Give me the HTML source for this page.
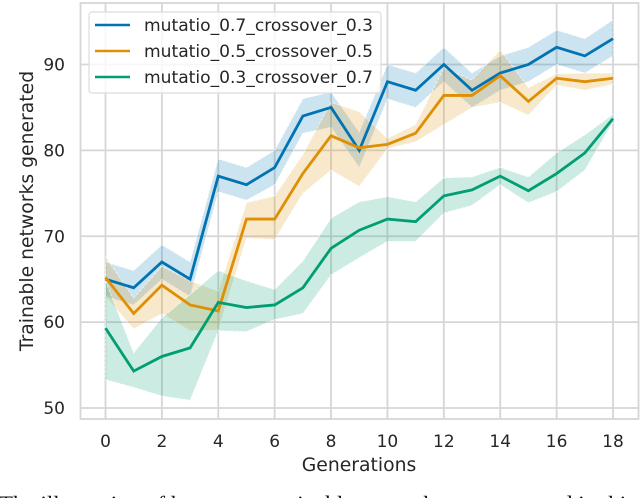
<!DOCTYPE html>
<html>
<head>
<meta charset="utf-8">
<style>
html,body{margin:0;padding:0;background:#fff;overflow:hidden;}
svg{display:block;}
text{font-family:"DejaVu Sans",sans-serif;fill:#262626;}
</style>
</head>
<body>
<svg id="chart" width="640" height="498" viewBox="0 0 640 498" xmlns="http://www.w3.org/2000/svg">
<rect x="0" y="0" width="640" height="498" fill="#fff"/>
<g id="grid"></g>
<g id="bands"></g>
<g id="lines"></g>
<rect x="80.5" y="3" width="558" height="416" fill="none" stroke="#d6d6d6" stroke-width="1.8"/>
<g id="xticks"></g>
<g id="yticks"></g>
<text x="359" y="471" font-size="18.8" text-anchor="middle">Generations</text>
<text transform="translate(33,211) rotate(-90)" font-size="18.8" text-anchor="middle">Trainable networks generated</text>
<g>
<rect x="89" y="12" width="292" height="81" rx="3" fill="#fff" fill-opacity="0.8" stroke="#dcdcdc" stroke-width="1.2"/>
<line x1="95" x2="130" y1="25" y2="25" stroke="#0173b2" stroke-width="2.6"/>
<text x="144" y="31" font-size="17.1">mutatio_0.7_crossover_0.3</text>
<line x1="95" x2="130" y1="51" y2="51" stroke="#de8f05" stroke-width="2.6"/>
<text x="144" y="57" font-size="17.1">mutatio_0.5_crossover_0.5</text>
<line x1="95" x2="130" y1="77" y2="77" stroke="#029e73" stroke-width="2.6"/>
<text x="144" y="83" font-size="17.1">mutatio_0.3_crossover_0.7</text>
</g>
<text x="-1" y="512" style="font-family:'Liberation Serif',serif;fill:#111" font-size="23">The illustration of how many trainable networks are generated in this</text>
</svg>
<script>
const generations = [0,1,2,3,4,5,6,7,8,9,10,11,12,13,14,15,16,17,18];
const xTickLabels = [0,2,4,6,8,10,12,14,16,18];
const yTickLabels = [50,60,70,80,90];

const blueMean  = [65,64,67,65,77,76,78,84,85,80,88,87,90,87,89,90,92,91,93];
const blueUpper = [67,66,69,67,79,78,80,86,86.8,82.1,90,89,92,89,91,92,94,93,95.2];
const blueLower = [63,62,65,63,75.2,74.2,76,82,82.7,78,86,85,88,85,87,88,90,89,91];

const orangeMean  = [65.2,61,64.3,62,61.3,72,72,77.3,81.7,80.3,80.7,82,86.4,86.4,88.7,85.7,88.4,88,88.4];
const orangeUpper = [67.6,62.8,66.5,64.8,63.6,73.9,74.7,79.5,85.6,84.5,81.4,83,89.6,88.2,91.7,87.3,88.9,89,89];
const orangeLower = [63,59.2,61,59,59.1,69.8,69.6,75,77.7,75.8,80.2,81,83,85,85.6,84.1,87.6,87,87.7];

const greenMean  = [59.3,54.3,56,57,62.3,61.7,62,64,68.6,70.7,72,71.7,74.7,75.4,77,75.3,77.3,79.7,83.7];
const greenUpper = [64.8,56.4,60.5,63.2,66,64.8,63.8,67.1,72.1,74,74.6,74,76.8,76.9,78,76.9,79.7,81.8,84.2];
const greenLower = [53.3,52.4,51.4,50.9,59,58.9,60.3,61,65.5,67.5,69.4,69.4,72.7,73.6,76,73.9,75.2,77.7,83.3];

const NS = 'http://www.w3.org/2000/svg';
const xScale = v => 105.5 + v * (613 - 105.5) / 18;
const yScale = v => 408 - (v - 50) * (408 - 64.5) / 40;
const make = (tag, parent) => { const el = document.createElementNS(NS, tag); parent.appendChild(el); return el; };

const grid = document.getElementById('grid');
const xt = document.getElementById('xticks');
const yt = document.getElementById('yticks');
xTickLabels.forEach(v => {
  const l = make('line', grid);
  
  
  l.setAttribute('x1', xScale(v)); l.setAttribute('x2', xScale(v));
  l.setAttribute('y1', 3); l.setAttribute('y2', 419);
  l.setAttribute('stroke', '#d6d6d6'); l.setAttribute('stroke-width', 1.8);
  const t = make('text', xt);
  
  
  t.setAttribute('x', xScale(v)); t.setAttribute('y', 447);
  t.setAttribute('font-size', 17); t.setAttribute('text-anchor', 'middle');
  t.textContent = v;
});
yTickLabels.forEach(v => {
  const l = make('line', grid);
  
  
  l.setAttribute('x1', 80.5); l.setAttribute('x2', 638.5);
  l.setAttribute('y1', yScale(v)); l.setAttribute('y2', yScale(v));
  l.setAttribute('stroke', '#d6d6d6'); l.setAttribute('stroke-width', 1.8);
  const t = make('text', yt);
  
  
  t.setAttribute('x', 65); t.setAttribute('y', yScale(v) + 6);
  t.setAttribute('font-size', 17); t.setAttribute('text-anchor', 'end');
  t.textContent = v;
});

const bands = document.getElementById('bands');
const lines = document.getElementById('lines');
function drawBand(upper, lower, color) {
  const top = upper.map((v, i) => xScale(generations[i]) + ',' + yScale(v));
  const bottom = lower.map((v, i) => xScale(generations[i]) + ',' + yScale(v)).reverse();
  const p = make('polygon', bands);
  
  
  p.setAttribute('points', top.concat(bottom).join(' '));
  p.setAttribute('fill', color);
  p.setAttribute('fill-opacity', 0.2);
  p.setAttribute('stroke', '#fff');
  p.setAttribute('stroke-opacity', 0.75);
  p.setAttribute('stroke-width', 0.8);
  p.setAttribute('stroke-dasharray', '3 1.5');
}
function drawLine(mean, color) {
  const p = make('polyline', lines);
  
  
  p.setAttribute('points', mean.map((v, i) => xScale(generations[i]) + ',' + yScale(v)).join(' '));
  p.setAttribute('fill', 'none');
  p.setAttribute('stroke', color);
  p.setAttribute('stroke-width', 2.8);
}
drawBand(blueUpper, blueLower, '#0173b2');
drawBand(orangeUpper, orangeLower, '#de8f05');
drawBand(greenUpper, greenLower, '#029e73');
drawLine(blueMean, '#0173b2');
drawLine(orangeMean, '#de8f05');
drawLine(greenMean, '#029e73');
</script>
</body>
</html>
